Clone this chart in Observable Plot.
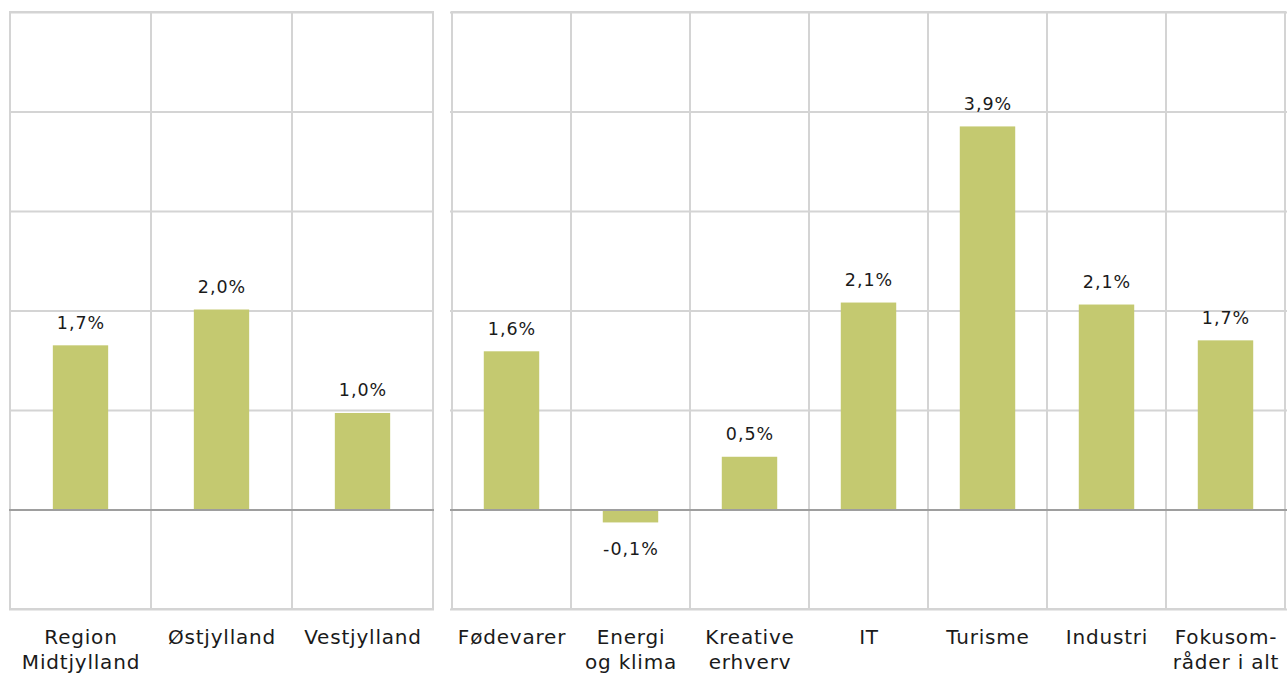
<!DOCTYPE html>
<html>
<head>
<meta charset="utf-8">
<script src="https://cdn.jsdelivr.net/npm/d3@7"></script>
<script src="https://cdn.jsdelivr.net/npm/@observablehq/plot@0.6"></script>
<style>
  html, body { margin: 0; padding: 0; background: #fff; overflow: hidden; }
  #wrap { display: flex; width: 1287px; height: 673px; }
  svg { font-family: "DejaVu Sans", Verdana, sans-serif; }
  .vlabel text { letter-spacing: 1px; }
  .catlabel text { letter-spacing: 0.8px; }
</style>
</head>
<body>
<div id="wrap"></div>
<script>
// Data
const leftCategories = ["Region\nMidtjylland", "Østjylland", "Vestjylland"];
const leftValues = [1.65, 2.01, 0.97];
const leftLabels = ["1,7%", "2,0%", "1,0%"];

const rightCategories = ["Fødevarer", "Energi\nog klima", "Kreative\nerhverv", "IT", "Turisme", "Industri", "Fokusom-\nråder i alt"];
const rightValues = [1.59, -0.13, 0.53, 2.08, 3.85, 2.06, 1.70];
const rightLabels = ["1,6%", "-0,1%", "0,5%", "2,1%", "3,9%", "2,1%", "1,7%"];

const yTicks = [-1, 0, 1, 2, 3, 4, 5];

const BAR = "#c4c970";
const GRID = "#d4d4d4";
const ZERO = "#9e9e9e";

function panel(categories, values, labels, width, marginLeft, marginRight) {
  const data = categories.map((c, i) => ({cat: c, value: values[i], label: labels[i]}));
  const innerW = width - marginLeft - marginRight;
  const step = innerW / categories.length;
  const inset = (step - 56) / 2;
  return Plot.plot({
    width,
    height: 673,
    marginTop: 12,
    marginBottom: 64,
    marginLeft,
    marginRight,
    style: {fontFamily: '"DejaVu Sans", Verdana, sans-serif', background: "#fff"},
    x: {domain: categories, padding: 0, axis: null},
    y: {domain: [-1, 5], axis: null},
    marks: [
      Plot.ruleY(yTicks, {stroke: GRID, strokeWidth: 2}),
      Plot.cell(categories, {x: d => d, fill: "none", stroke: GRID, strokeWidth: 2}),
      Plot.barY(data, {x: "cat", y: "value", fill: BAR, insetLeft: inset, insetRight: inset}),
      Plot.ruleY([0], {stroke: ZERO, strokeWidth: 2}),
      Plot.text(data.filter(d => d.value >= 0), {x: "cat", y: "value", text: "label", lineAnchor: "bottom", dy: -17, fontSize: 17.5, fill: "#1a1a1a", className: "vlabel"}),
      Plot.text(data.filter(d => d.value < 0), {x: "cat", y: "value", text: "label", lineAnchor: "top", dy: 20, fontSize: 17.5, fill: "#1a1a1a", className: "vlabel"}),
      Plot.axisX({tickSize: 0, tickPadding: 17, fontSize: 20, lineHeight: 1.25, fill: "#1a1a1a", label: null, className: "catlabel"})
    ]
  });
}

const wrap = document.getElementById("wrap");
wrap.appendChild(panel(leftCategories, leftValues, leftLabels, 442, 9, 8));
wrap.appendChild(panel(rightCategories, rightValues, rightLabels, 845, 8, 0));
</script>
</body>
</html>
